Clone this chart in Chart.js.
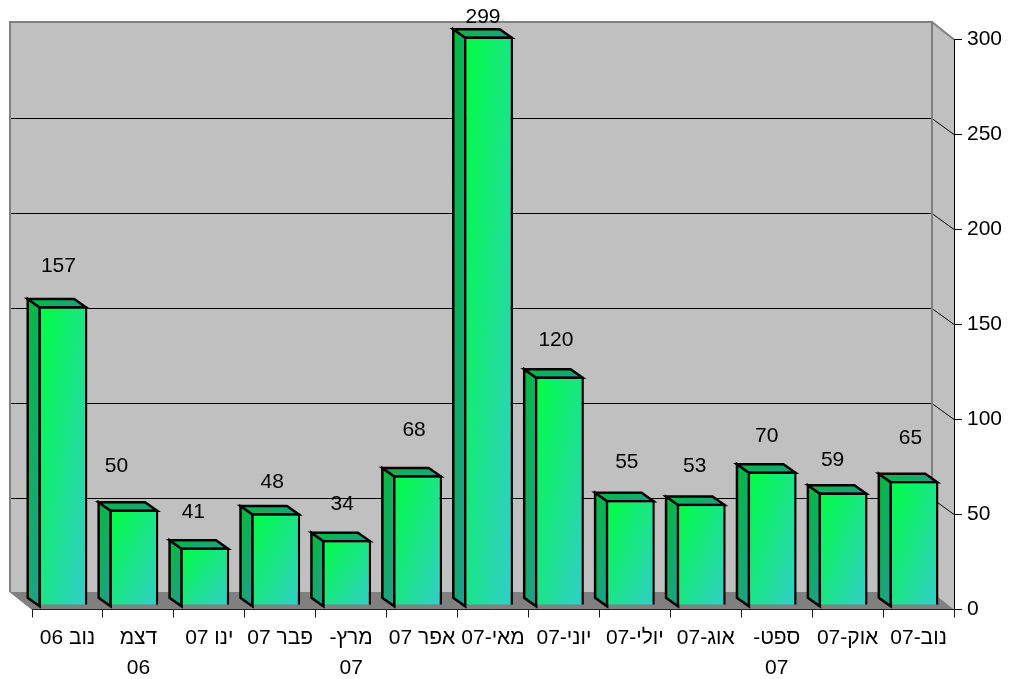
<!DOCTYPE html>
<html>
<head>
<meta charset="utf-8">
<style>
  html, body { margin: 0; padding: 0; background: #fff; }
  canvas { display: block; }
</style>
<script src="https://cdn.jsdelivr.net/npm/chart.js@4"></script>
</head>
<body>
<canvas id="barChart" width="1009" height="679" dir="rtl"></canvas>
<script>
const categories = ['נוב 06', ['דצמ', '06'], 'ינו 07', 'פבר 07', ['מרץ-', '07'], 'אפר 07', 'מאי-07', 'יוני-07', 'יולי-07', 'אוג-07', ['ספט-', '07'], 'אוק-07', 'נוב-07'];
// heights as drawn; the third bar is drawn lower than its printed label says
const barValues = [157, 50, 30, 48, 34, 68, 299, 120, 55, 53, 70, 59, 65];
const barLabels = ['157', '50', '41', '48', '34', '68', '299', '120', '55', '53', '70', '59', '65'];
// hand placed labels in the original: offset from the middle of the bar top
const labelNudge = [[-4.5, -40], [-17.5, -43.5], [-11.5, -35.5], [-3.5, -31], [-4.5, -36], [-3.5, -45], [-5.5, -19], [-3.5, -36.5], [-3.5, -38], [-6.5, -38], [-5.5, -35.5], [-10.5, -32.5], [-3.5, -43]];
const yMax = 300;
const yStep = 50;
const barFoot = -1.6;  // bars stand a little below their zero line

const FONT = 'Arial, "Liberation Sans", sans-serif';
const FONT_SIZE = 21;
const BACK_X = -22;   // back wall offset from the axis plane
const BACK_Y = -17.5;
const GRID_Y = -16;
const BAR_X = -4.5;   // bar front offset from the axis plane
const BAR_Y = -5;
const DEPTH_X = -12;  // bar depth
const DEPTH_Y = -8.5;
const BAR_LINE = 2.5;

// diagonal fade where the colour changes as much across the box as down it
function boxGradient(ctx, x, y, w, h, from, to) {
    if (!(w > 0 && h > 0)) return from;
    const k = 2 / (1 / (w * w) + 1 / (h * h));
    const g = ctx.createLinearGradient(x, y, x + k / w, y + k / h);
    g.addColorStop(0, from);
    g.addColorStop(1, to);
    return g;
}

function poly(ctx, pts, fill, stroke, lineWidth) {
    ctx.beginPath();
    pts.forEach((p, i) => i ? ctx.lineTo(p[0], p[1]) : ctx.moveTo(p[0], p[1]));
    ctx.closePath();
    if (fill) {
        ctx.fillStyle = fill;
        ctx.fill();
    }
    if (stroke) {
        ctx.strokeStyle = stroke;
        ctx.lineWidth = lineWidth;
        ctx.stroke();
    }
}

const walls3d = {
    id: 'walls3d',
    beforeDraw(chart) {
        const { ctx, chartArea: a, scales: { y } } = chart;
        const bl = a.left + BACK_X, br = a.right + BACK_X;
        const bt = a.top + BACK_Y, bb = a.bottom + BACK_Y;
        ctx.save();
        poly(ctx, [[bl, bt], [br, bt], [br, bb], [bl, bb]], '#c0c0c0');
        poly(ctx, [[br, bt], [a.right, a.top], [a.right, a.bottom], [br, bb]], '#c0c0c0');
        poly(ctx, [[bl, bb], [br, bb], [a.right, a.bottom], [a.left, a.bottom]], '#808080');

        ctx.strokeStyle = '#000';
        ctx.lineWidth = 1;
        y.ticks.forEach(t => {
            if (t.value === 0 || t.value === yMax) return;
            const py = y.getPixelForValue(t.value);
            ctx.beginPath();
            ctx.moveTo(bl, py + GRID_Y);
            ctx.lineTo(br, py + GRID_Y);
            ctx.lineTo(a.right, py);
            ctx.stroke();
        });

        ctx.strokeStyle = '#808080';
        ctx.lineWidth = 2;
        ctx.beginPath();
        ctx.moveTo(bl, bb);
        ctx.lineTo(bl, bt);
        ctx.lineTo(br, bt);
        ctx.lineTo(br, bb);
        ctx.moveTo(br, bt);
        ctx.lineTo(a.right, a.top);
        ctx.stroke();
        ctx.lineWidth = 1;
        ctx.beginPath();
        ctx.moveTo(bl, bb);
        ctx.lineTo(a.left, a.bottom);
        ctx.stroke();
        ctx.restore();
    }
};

const bars3d = {
    id: 'bars3d',
    beforeDatasetDraw(chart) {
        const { ctx } = chart;
        const inset = BAR_LINE / 2;
        ctx.save();
        ctx.translate(BAR_X, BAR_Y);
        chart.getDatasetMeta(0).data.forEach(el => {
            const l = el.x - el.width / 2 + inset, r = el.x + el.width / 2 - inset;
            const t = el.y + inset, b = el.base - inset;
            const side = boxGradient(ctx, l + DEPTH_X, t + DEPTH_Y, -DEPTH_X, b - t - DEPTH_Y, '#00bf30', '#269999');
            poly(ctx, [[l, t], [l + DEPTH_X, t + DEPTH_Y], [l + DEPTH_X, b + DEPTH_Y], [l, b]], side, '#000', BAR_LINE);
            const top = boxGradient(ctx, l + DEPTH_X, t + DEPTH_Y, r - l - DEPTH_X, -DEPTH_Y, '#00bf30', '#269999');
            poly(ctx, [[l, t], [l + DEPTH_X, t + DEPTH_Y], [r + DEPTH_X, t + DEPTH_Y], [r, t]], top, '#000', BAR_LINE);
        });
    },
    afterDatasetDraw(chart) {
        const { ctx } = chart;
        ctx.restore();
        ctx.save();
        ctx.font = FONT_SIZE + 'px ' + FONT;
        ctx.fillStyle = '#000';
        ctx.textAlign = 'center';
        ctx.textBaseline = 'middle';
        chart.getDatasetMeta(0).data.forEach((el, i) => {
            ctx.fillText(barLabels[i], el.x + BAR_X + labelNudge[i][0], el.y + BAR_Y + labelNudge[i][1]);
        });
        ctx.restore();
    }
};

new Chart(document.getElementById('barChart'), {
    type: 'bar',
    data: {
        labels: categories,
        datasets: [{
            data: barValues,
            base: barFoot,
            backgroundColor(c) {
                const { x, y } = c.chart.scales;
                if (!x || !y || c.dataIndex === undefined) return '#00ff40';
                const w = x.width / categories.length * 0.69;
                const top = y.getPixelForValue(barValues[c.dataIndex]);
                const h = y.getPixelForValue(barFoot) - top;
                const left = x.getPixelForValue(c.dataIndex) - w / 2;
                return boxGradient(c.chart.ctx, left, top, w, h, '#00ff40', '#33cccc');
            },
            borderColor: '#000',
            borderWidth: BAR_LINE,
            borderSkipped: false,
            categoryPercentage: 1,
            barPercentage: 0.69
        }]
    },
    options: {
        responsive: false,
        animation: false,
        layout: { padding: { left: 32, top: 39.5 } },
        plugins: {
            legend: { display: false },
            tooltip: { enabled: false }
        },
        scales: {
            x: {
                grid: { offset: true, drawOnChartArea: false, color: '#202020', tickLength: 8 },
                border: { color: '#202020' },
                afterFit(s) { s.height = 69.5; },
                ticks: {
                    color: '#000',
                    padding: 6,
                    maxRotation: 0,
                    autoSkip: false,
                    font: { family: FONT, size: FONT_SIZE, lineHeight: 1.43 }
                }
            },
            y: {
                position: 'right',
                min: 0,
                max: yMax,
                grid: { drawOnChartArea: false, color: '#000', tickLength: 8 },
                border: { color: '#000' },
                afterFit(s) { s.width = 55; },
                ticks: {
                    stepSize: yStep,
                    color: '#000',
                    padding: 5,
                    font: { family: FONT, size: FONT_SIZE }
                }
            }
        }
    },
    plugins: [walls3d, bars3d]
});
</script>
</body>
</html>
